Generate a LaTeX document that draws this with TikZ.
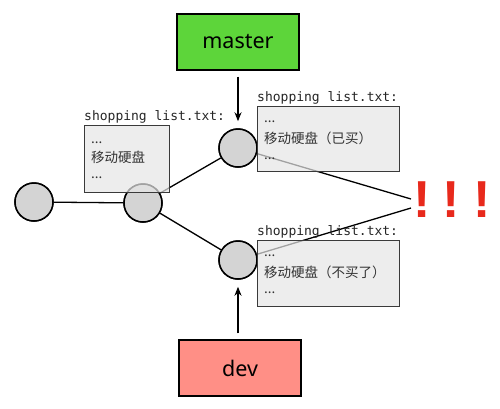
\documentclass[tikz,border=0pt]{standalone}
\usepackage{fontspec}
\setmainfont{Liberation Sans}
\newfontfamily\cjkf{Noto Sans CJK SC}
\newfontfamily\monof{DejaVu Sans Mono}
\newfontfamily\labf{Noto Sans}
\usetikzlibrary{arrows.meta}
\definecolor{mgreen}{HTML}{5DD53A}
\definecolor{dpink}{HTML}{FF8F86}
\definecolor{bangred}{HTML}{E8291C}
\definecolor{boxfill}{HTML}{E6E6E6}
\definecolor{boxline}{HTML}{3A3A3A}
\definecolor{cgray}{HTML}{D4D4D4}
\begin{document}
\begin{tikzpicture}[x=1pt,y=-1pt,
  commit/.style={circle, draw=black, line width=1.5pt, fill=cgray, minimum size=38pt, inner sep=0pt},
  filebox/.style={draw=boxline, line width=0.9pt, fill=boxfill, fill opacity=0.7, draw opacity=1, inner sep=0pt, anchor=north west},
  fname/.style={font=\monof\fontsize{13}{13}\selectfont, anchor=base west, inner sep=0pt, text=black!85},
  ftext/.style={font=\cjkf\fontsize{13.5}{13.5}\selectfont, anchor=west, inner sep=0pt, text=black!80},
  branch/.style={draw=black, line width=1.2pt, minimum width=122pt, minimum height=56pt, inner sep=0pt, font=\labf\fontsize{21.5}{21.5}\selectfont},
  link/.style={line width=1.3pt},
  ptr/.style={-{Stealth[length=9pt,width=7pt]}, line width=1.5pt, shorten <=6pt, shorten >=7pt},
  bang/.style={text=bangred, inner sep=0pt, font=\fontsize{52}{52}\selectfont\bfseries}]
\useasboundingbox (0,0) rectangle (500,408);
\fill[white] (0,0) rectangle (500,408);

% commits and free ends
\node[commit] (c1) at (34,202) {};
\node[commit] (c2) at (143,203) {};
\node[commit] (c3) at (238,148) {};
\node[commit] (c4) at (238,260) {};
\coordinate (e1) at (411,199);
\coordinate (e2) at (411,208);

% links
\draw[link] (c1) -- (c2);
\draw[link] (c2) -- (c3);
\draw[link] (c2) -- (c4);
\draw[link] (c3) -- (e1);
\draw[link] (c4) -- (e2);
\node[commit] at (c1) {};
\node[commit] at (c2) {};
\node[commit] at (c3) {};
\node[commit] at (c4) {};

% file boxes
\node[filebox, minimum width=85pt, minimum height=67pt] (f1) at (84,125) {};
\node[filebox, minimum width=142pt, minimum height=65pt] (f2) at (257,106) {};
\node[filebox, minimum width=142pt, minimum height=66pt] (f3) at (257,240) {};

\node[fname] (n1) at (84,120) {shopping list.txt:};
\node[fname] (n2) at (257,101) {shopping list.txt:};
\node[fname] (n3) at (257,235) {shopping list.txt:};

\node[ftext] (t1a) at (91,142.3) {...};
\node[ftext] (t1b) at (91,157) {移动硬盘};
\node[ftext] (t1c) at (91,177.3) {...};

\node[ftext] (t2a) at (264,122) {...};
\node[ftext] (t2b) at (264,138.2) {移动硬盘（已买）};
\node[ftext] (t2c) at (264,158.3) {...};

\node[ftext] (t3a) at (264,256) {...};
\node[ftext] (t3b) at (264,272.2) {移动硬盘（不买了）};
\node[ftext] (t3c) at (264,292.3) {...};

% branches
\node[branch, fill=mgreen] (m) at (238,42) {master};
\node[branch, fill=dpink] (d) at (240,368) {dev};
\draw[ptr] (m) -- (c3);
\draw[ptr] (d.north -| c4) -- (c4);

% bangs
\node[bang] (b1) at (422,200) {!};
\node[bang] (b2) at (451,200) {!};
\node[bang] (b3) at (482,200) {!};
\end{tikzpicture}
\end{document}
